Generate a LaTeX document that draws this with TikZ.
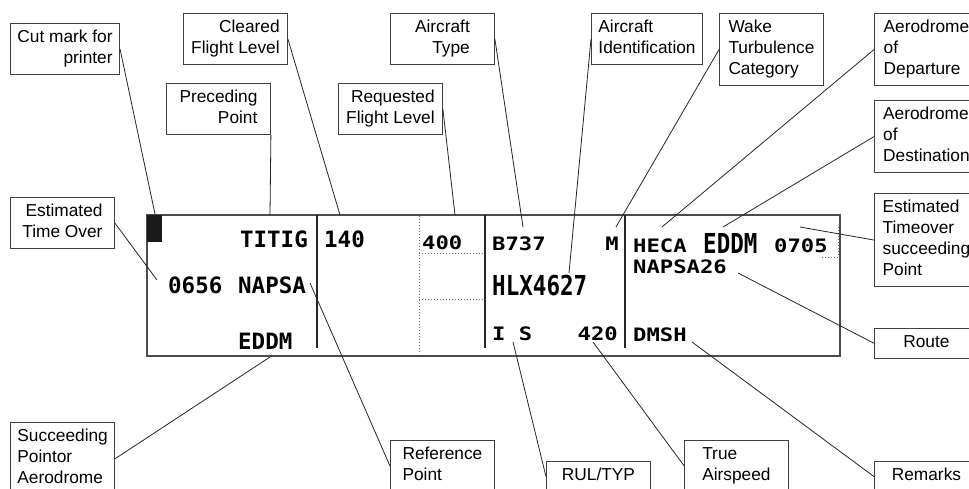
\documentclass[tikz,border=0pt]{standalone}
\usepackage{fontspec}
\setmainfont{Liberation Sans}
\newfontfamily\stripfont{DejaVu Sans Mono}
\newfontfamily\widefont{DejaVu Sans Mono}[FakeStretch=1.2]
\newfontfamily\narrowfont{DejaVu Sans Mono}[FakeStretch=0.82]
\usetikzlibrary{positioning, calc}
\tikzstyle{infobox} = [rectangle, draw=black!75, line width=0.9pt, anchor=north west, minimum width=104pt, inner xsep=7pt, inner ysep=7pt, text depth=3.7pt, font=\fontsize{17.3}{21}\selectfont]
\tikzstyle{leader} = [line width=0.8pt, black!85]
\tikzstyle{field} = [inner sep=0pt, font=\stripfont\bfseries\fontsize{22.5}{22.5}\selectfont]
\tikzstyle{smallfield} = [inner sep=0pt, font=\widefont\bfseries\fontsize{18.5}{18.5}\selectfont]
\tikzstyle{tallfield} = [inner sep=0pt, font=\narrowfont\bfseries\fontsize{27.5}{27.5}\selectfont]

\begin{document}
\begin{tikzpicture}[x=1pt, y=-1pt]
    \useasboundingbox (0,0) rectangle (969,488);

    % flight strip
    \draw [black!70, line width=1.3pt] (147,215) rectangle (840,356);
    \fill [black!90] (147,215) rectangle (162,242);
    \draw [black!85, line width=1.8pt] (317,215) -- (317,348);
    \draw [black!85, line width=1.8pt] (485,215) -- (485,348);
    \draw [black!85, line width=1.8pt] (625,215) -- (625,348);
    \draw [black!55, dotted, line width=1pt] (419,216) -- (419,354);
    \draw [black!55, dotted, line width=1pt] (419,253) -- (485,253);
    \draw [black!55, dotted, line width=1pt] (419,299) -- (485,299);
    \draw [black!55, dotted, line width=1pt] (838,227) -- (838,257) -- (820,257);

    % strip fields
    \node (titig) [field, anchor=base east] at (308,247) {TITIG};
    \node (cfl) [field, anchor=base west] at (324,247) {140};
    \node (rfl) [smallfield, anchor=base west] at (422,249) {400};
    \node (eto) [field, anchor=base west] at (168,293) {0656};
    \node (napsa) [field, anchor=base west] at (238,293) {NAPSA};
    \node (next) [field, anchor=base west] at (238,349) {EDDM};
    \node (type) [smallfield, anchor=base west] at (492,250) {B737};
    \node (wake) [smallfield, anchor=base east] at (619,250) {M};
    \node (callsign) [tallfield, anchor=base west] at (492,295) {HLX4627};
    \node (rul) [smallfield, anchor=base west] at (492,340) {I S};
    \node (tas) [smallfield, anchor=base east] at (618,340) {420};
    \node (dep) [smallfield, anchor=base west] at (633,252) {HECA};
    \node (dest) [tallfield, anchor=base west] at (703,253) {EDDM};
    \node (etonext) [smallfield, anchor=base west] at (774,252) {0705};
    \node (route) [smallfield, anchor=base west] at (633,273) {NAPSA26};
    \node (rmk) [smallfield, anchor=base west] at (633,341) {DMSH};

    % connector ends on the strip
    \coordinate (pCut) at (155,214);
    \coordinate (pPrc) at (270,215);
    \coordinate (pClr) at (340,215);
    \coordinate (pRfl) at (455,215);
    \coordinate (pTyp) at (523,227);
    \coordinate (pAcid) at (569,273);
    \coordinate (pWtc) at (616,227);
    \coordinate (pAdep) at (662,227);
    \coordinate (pAdes) at (723,227);
    \coordinate (pEto) at (800,227);
    \coordinate (pRoute) at (738,273);
    \coordinate (pRmk) at (692,342);
    \coordinate (pTas) at (593,342);
    \coordinate (pRul) at (513,342);
    \coordinate (pRef) at (310,283);
    \coordinate (pSucc) at (270,357);
    \coordinate (pEtov) at (157,280);

    % callouts
    \node (cutbox) [infobox, align=right] at (10,23) {Cut mark for\\printer};
    \node (clrbox) [infobox, align=right] at (183,13) {Cleared\\Flight Level};
    \node (prcbox) [infobox, align=right] at (166,83) {Preceding\\Point};
    \node (rflbox) [infobox, align=right] at (338,83) {Requested\\Flight Level};
    \node (typbox) [infobox, align=right] at (390,13) {Aircraft\\Type};
    \node (acidbox) [infobox, align=left] at (591,13) {Aircraft\\Identification};
    \node (wtcbox) [infobox, align=left] at (719,13) {Wake\\Turbulence\\Category};
    \node (adepbox) [infobox, align=left] at (874,13) {Aerodrome\\of\\Departure};
    \node (adesbox) [infobox, align=left] at (874,100) {Aerodrome\\of\\Destination};
    \node (etobox) [infobox, align=left] at (874,193) {Estimated\\Timeover\\succeeding\\Point};
    \node (routebox) [infobox] at (874,328) {Route};
    \node (etovbox) [infobox, align=right] at (10,197) {Estimated\\Time Over};
    \node (succbox) [infobox, align=left] at (10,422) {Succeeding\\Pointor\\Aerodrome};
    \node (refbox) [infobox, align=left] at (390,440) {Reference\\Point};
    \node (rulbox) [infobox] at (546,461) {RUL/TYP};
    \node (tasbox) [infobox, align=left] at (684,440) {True\\Airspeed};
    \node (rmkbox) [infobox] at (874,461) {Remarks};

    \draw [leader] (cutbox.east) -- (pCut);
    \draw [leader] (clrbox.east) -- (pClr);
    \draw [leader] (prcbox.south east) -- (pPrc);
    \draw [leader] (rflbox.east) -- (pRfl);
    \draw [leader] (typbox.east) -- (pTyp);
    \draw [leader] (acidbox.west) -- (pAcid);
    \draw [leader] (wtcbox.west) -- (pWtc);
    \draw [leader] (adepbox.west) -- (pAdep);
    \draw [leader] (adesbox.west) -- (pAdes);
    \draw [leader] (etobox.west) -- (pEto);
    \draw [leader] (routebox.west) -- (pRoute);
    \draw [leader] (etovbox.east) -- (pEtov);
    \draw [leader] (succbox.east) -- (pSucc);
    \draw [leader] (refbox.west) -- (pRef);
    \draw [leader] (rulbox.west) -- (pRul);
    \draw [leader] (tasbox.west) -- (pTas);
    \draw [leader] (rmkbox.west) -- (pRmk);
\end{tikzpicture}
\end{document}
